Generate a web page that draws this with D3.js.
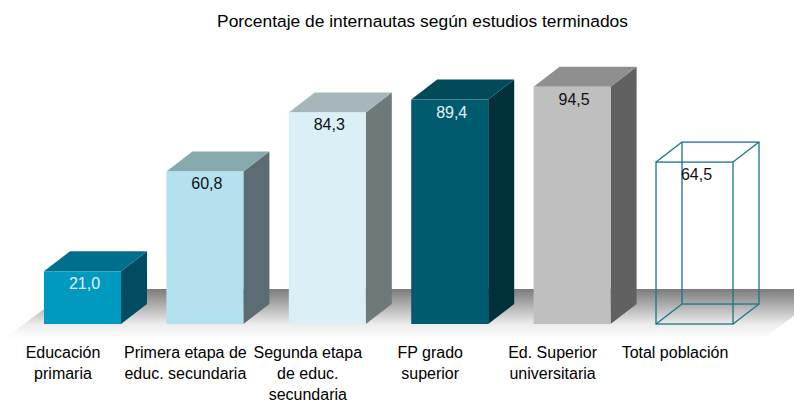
<!DOCTYPE html>
<html>
<head>
<meta charset="utf-8">
<script src="https://cdn.jsdelivr.net/npm/d3@7"></script>
<style>
  body { margin: 0; background: #fff; }
  text { font-family: "Liberation Sans", Arial, sans-serif; }
</style>
</head>
<body>
<div id="viz"></div>
<script>
// data
var categories = ["Educación primaria", "Primera etapa de educ. secundaria", "Segunda etapa de educ. secundaria",
                  "FP grado superior", "Ed. Superior universitaria", "Total población"];
var values = [21.0, 60.8, 84.3, 89.4, 94.5, 64.5];
var valueLabels = ["21,0", "60,8", "84,3", "89,4", "94,5", "64,5"];
var title = "Porcentaje de internautas según estudios terminados";

var frontColors = ["#0099c0", "#b3e1ed", "#dbf0f6", "#005b6e", "#bfbfbf", "none"];
var topColors   = ["#006f8e", "#86a9ae", "#a7b6ba", "#004a59", "#8f8f8f", "none"];
var sideColors  = ["#004d61", "#5b6c73", "#6e7a7a", "#00303a", "#616161", "none"];
var labelColors = ["#e4f2f8", "#111", "#111", "#e4f2f2", "#111", "#111"];

var width = 794, height = 402;
var depthX = 26, depthY = -20;

var svg = d3.select('#viz').append('svg')
    .attr("width", width)
    .attr("height", height);

var x = d3.scaleBand()
    .domain(categories)
    .range([44, 733])
    .paddingInner(0.371)
    .paddingOuter(0);

var y = d3.scaleLinear()
    .domain([0, 100])
    .range([324, 73]);

var bw = x.bandwidth();

// floor gradient
var defs = svg.append("defs");
var grad = defs.append("linearGradient")
    .attr("id", "floorGrad")
    .attr("x1", 0).attr("y1", 0).attr("x2", 0).attr("y2", 1);
grad.append("stop").attr("offset", "0").attr("stop-color", "#7b7b7b");
grad.append("stop").attr("offset", "0.72").attr("stop-color", "#ececec");
grad.append("stop").attr("offset", "1").attr("stop-color", "#ffffff");

var floorFront = y(0) + 14, floorBack = y(0) - 35;
var slope = 1.35;
svg.append("path")
    .attr("d", "M5," + floorFront +
               "L" + (5 + (floorFront - floorBack) * slope) + "," + floorBack +
               "L" + 830 + "," + floorBack +
               "L" + (830 - (floorFront - floorBack) * slope) + "," + floorFront + "Z")
    .attr("fill", "url(#floorGrad)");

// bars
var bars = svg.selectAll("g.bar")
    .data(values)
    .enter().append("g")
    .attr("class", "bar");

bars.each(function(d, i) {
    var g = d3.select(this);
    var x0 = x(categories[i]), x1 = x0 + bw;
    var yt = y(d), yb = y(0);
    if (frontColors[i] === "none") {
        // wireframe box
        var st = "#1b7585";
        var pts = [[x0, yt], [x1, yt], [x1, yb], [x0, yb]];
        g.append("rect").attr("x", x0 + depthX).attr("y", yt + depthY)
            .attr("width", bw).attr("height", yb - yt)
            .attr("fill", "none").attr("stroke", st).attr("stroke-width", 1.3);
        pts.forEach(function(p) {
            g.append("line").attr("x1", p[0]).attr("y1", p[1])
                .attr("x2", p[0] + depthX).attr("y2", p[1] + depthY)
                .attr("stroke", st).attr("stroke-width", 1.3);
        });
        g.append("rect").attr("x", x0).attr("y", yt)
            .attr("width", bw).attr("height", yb - yt)
            .attr("fill", "none").attr("stroke", st).attr("stroke-width", 1.3);
        return;
    }
    g.append("path")
        .attr("d", "M" + x1 + "," + yt + "L" + (x1 + depthX) + "," + (yt + depthY) +
                   "L" + (x1 + depthX) + "," + (yb + depthY) + "L" + x1 + "," + yb + "Z")
        .attr("fill", sideColors[i]);
    g.append("path")
        .attr("d", "M" + x0 + "," + yt + "L" + (x0 + depthX) + "," + (yt + depthY) +
                   "L" + (x1 + depthX) + "," + (yt + depthY) + "L" + x1 + "," + yt + "Z")
        .attr("fill", topColors[i]);
    g.append("rect")
        .attr("x", x0).attr("y", yt)
        .attr("width", bw).attr("height", yb - yt)
        .attr("fill", frontColors[i]);
});

// value labels
svg.selectAll("text.val")
    .data(values)
    .enter().append("text")
    .attr("class", "val")
    .attr("x", function(d, i) { return x(categories[i]) + bw / 2 + 2; })
    .attr("y", function(d) { return y(d) + 18; })
    .attr("text-anchor", "middle")
    .style("font-size", "16px")
    .attr("fill", function(d, i) { return labelColors[i]; })
    .text(function(d, i) { return valueLabels[i]; });

// category labels, wrapped
var xAxis = svg.append("g");
categories.forEach(function(c) {
    var t = xAxis.append("text")
        .attr("x", x(c) + bw / 2 - 19.5)
        .attr("y", 358)
        .attr("text-anchor", "middle")
        .style("font-size", "16px")
        .attr("fill", "#000");
    var words = c.split(" "), line = [];
    var tspan = t.append("tspan").attr("x", x(c) + bw / 2 - 19.5).attr("dy", 0);
    words.forEach(function(w) {
        line.push(w);
        tspan.text(line.join(" "));
        if (tspan.node().getComputedTextLength() > 126 && line.length > 1) {
            line.pop();
            tspan.text(line.join(" "));
            line = [w];
            tspan = t.append("tspan").attr("x", x(c) + bw / 2 - 19.5).attr("dy", 21).text(w);
        }
    });
});

svg.append("text")
    .attr("x", 422.5)
    .attr("y", 26.5)
    .attr("text-anchor", "middle")
    .style("font-size", "17.4px")
    .attr("fill", "#000")
    .text(title);
</script>
</body>
</html>
